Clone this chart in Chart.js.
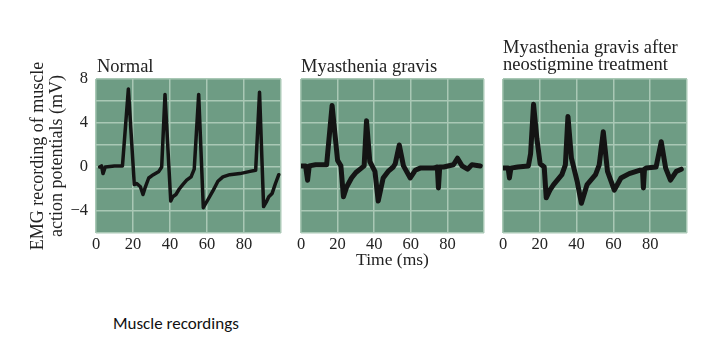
<!DOCTYPE html>
<html>
<head>
<meta charset="utf-8">
<script src="https://cdn.jsdelivr.net/npm/chart.js@4.4.1/dist/chart.umd.min.js"></script>
<style>
  html, body { margin: 0; padding: 0; background: #ffffff; }
  body { width: 724px; height: 351px; position: relative; overflow: hidden; }
  .box { position: absolute; top: 0; height: 290px; }
  .ttl { position: absolute; font-family: "Liberation Serif", serif; font-size: 18.5px; color: #222; white-space: nowrap; }
  .cap { position: absolute; left: 113px; top: 313px; font-family: "Carlito", "Lato", sans-serif; font-size: 17px; color: #111; }
</style>
</head>
<body>
<div class="box" style="left:0px;width:290px;"><canvas id="c1"></canvas></div>
<div class="box" style="left:290px;width:200px;"><canvas id="c2"></canvas></div>
<div class="box" style="left:492px;width:210px;"><canvas id="c3"></canvas></div>
<div class="ttl" style="left:97px;top:56px;line-height:20px;">Normal</div>
<div class="ttl" style="left:301px;top:56px;line-height:20px;">Myasthenia gravis</div>
<div class="ttl" style="left:503px;top:39px;line-height:17px;">Myasthenia gravis after<br>neostigmine treatment</div>
<div class="cap">Muscle recordings</div>
<script>
// ---- Data (time in ms, EMG in mV) ----
const titles = ["Normal", "Myasthenia gravis", "Myasthenia gravis after neostigmine treatment"];
const xTicks = [0, 20, 40, 60, 80];
const yTicks = [8, 4, 0, -4];

const normalTime = [2, 3, 3.8, 5, 10, 14.3, 17.5, 20.7, 22, 24, 25.4, 26.5, 28.5, 31, 34, 35.5, 37.3, 40.4, 41.5, 43.2, 45, 46.9, 49, 51.4, 53.1, 55.5, 58, 60.4, 63.1, 65.9, 68.6, 72.3, 77.8, 83.3, 86.3, 88.4, 90.6, 92, 93.4, 95.2, 97, 98.8];
const normalMv   = [0, 0.1, -0.6, 0, 0.1, 0.1, 7.1, -1.6, -1.5, -1.8, -2.5, -1.9, -1.0, -0.7, -0.4, 0, 6.6, -3.1, -2.7, -2.5, -2.0, -1.6, -1.2, -0.9, -0.2, 6.6, -3.7, -3.0, -2.2, -1.3, -0.9, -0.7, -0.6, -0.4, -0.3, 6.8, -3.6, -3.2, -2.7, -2.4, -1.5, -0.7];

const mgTime = [0.3, 2.5, 3.6, 4.5, 8, 14, 17, 20, 21.8, 23.2, 25, 27.6, 30, 33, 34.5, 35.8, 37.6, 40.4, 42.2, 44.9, 47.6, 50.4, 51.5, 53.7, 56, 59.7, 62.4, 65.1, 72.4, 74.5, 75.1, 75.8, 77.9, 83.3, 85.5, 88, 91, 93.4, 98];
const mgMv   = [0.1, 0.1, -1.2, 0.1, 0.2, 0.2, 5.6, 0.6, 0.1, -2.7, -1.8, -1.0, -0.5, -0.1, 0.1, 4.2, 0.5, -0.4, -3.1, -1.0, -0.4, 0, 0.3, 2.0, 0.1, -1.0, -0.3, -0.1, -0.1, 0, -1.9, 0, 0, 0.2, 0.8, 0.1, -0.2, 0.2, 0.1];

const neoTime = [0.2, 2.8, 3.5, 4.3, 8, 13.8, 15, 16.6, 18.4, 20.2, 22.4, 23.5, 25.5, 27.5, 32, 33.9, 35.3, 37.2, 40.3, 42.6, 45.7, 50.3, 52.3, 54.5, 56.8, 60.5, 64.1, 68.6, 74.1, 75.8, 76.3, 76.9, 77.8, 83.2, 86, 88.4, 91, 94.2, 96.9];
const neoMv   = [-0.1, -0.1, -1.0, -0.1, 0, 0.1, 1.2, 5.7, 2.6, 0.3, 0, -2.8, -2.1, -1.6, -0.7, 0.2, 4.6, 0.8, -1.3, -3.3, -1.6, -0.7, 0.2, 3.2, -0.4, -2.1, -1.0, -0.6, -0.3, -0.3, -1.9, -0.2, -0.1, 0, 2.3, -0.1, -1.2, -0.4, -0.2];

const PLOT_BG = '#6e9c84';
const GRID = '#a9c8b5';
const SERIF = '"Liberation Serif", serif';

const bgPlugin = {
  id: 'plotBg',
  beforeDraw(chart) {
    const a = chart.chartArea, ctx = chart.ctx;
    ctx.save();
    ctx.fillStyle = PLOT_BG;
    ctx.fillRect(a.left, a.top, a.right - a.left, a.bottom - a.top);
    ctx.restore();
  }
};

function makeChart(id, times, vals, opt) {
  const pts = times.map((t, i) => ({ x: t, y: vals[i] }));
  return new Chart(document.getElementById(id), {
    type: 'line',
    data: { datasets: [{ data: pts, borderColor: '#141414', borderWidth: opt.lw, pointRadius: 0, tension: 0, borderJoinStyle: 'round', borderCapStyle: 'round' }] },
    plugins: [bgPlugin],
    options: {
      responsive: true,
      maintainAspectRatio: false,
      animation: false,
      layout: { padding: { top: 79, right: opt.right, left: 0, bottom: 0 } },
      plugins: { legend: { display: false }, tooltip: { enabled: false } },
      scales: {
        x: {
          type: 'linear', min: 0, max: 100,
          afterBuildTicks: (s) => { s.ticks = [0, 20, 40, 60, 80, 100].map(v => ({ value: v })); },
          ticks: { color: '#222', font: { family: SERIF, size: 16.5 }, padding: 2, maxRotation: 0, autoSkip: false,
                   callback: (v) => xTicks.includes(v) ? String(v) : '' },
          grid: { color: GRID, lineWidth: 1.5, drawTicks: false },
          border: { display: false },
          title: opt.xTitle ? { display: true, text: opt.xTitle, color: '#222', font: { family: SERIF, size: 17.5, lineHeight: 1.15 }, padding: { top: 0, bottom: 20 } } : { display: false },
          afterFit: (s) => { s.height = 57; }
        },
        y: {
          type: 'linear', min: -6, max: 8,
          afterBuildTicks: (s) => { s.ticks = [-6, -4, -2, 0, 2, 4, 6, 8].map(v => ({ value: v })); },
          ticks: { display: opt.yLabels, color: '#222', font: { family: SERIF, size: 16.5 }, padding: 8, autoSkip: false,
                   callback: (v) => yTicks.includes(v) ? (v < 0 ? '\u2212' + Math.abs(v) : String(v)) : '' },
          grid: { color: GRID, lineWidth: 1.5, drawTicks: false },
          border: { display: false },
          title: opt.yTitle ? { display: true, text: opt.yTitle, color: '#222', font: { family: SERIF, size: 18, lineHeight: 1.1 }, padding: { top: 28, bottom: 0 } } : { display: false },
          afterFit: (s) => { s.width = opt.yw; }
        }
      }
    }
  });
}

makeChart('c1', normalTime, normalMv, { lw: 3.5, right: 9, yw: 96, yLabels: true, yTitle: ['EMG recording of muscle', 'action potentials (mV)'] });
makeChart('c2', mgTime, mgMv, { lw: 5, right: 6, yw: 11, yLabels: false, xTitle: 'Time (ms)' });
makeChart('c3', neoTime, neoMv, { lw: 5, right: 15, yw: 11, yLabels: false });
</script>
</body>
</html>
